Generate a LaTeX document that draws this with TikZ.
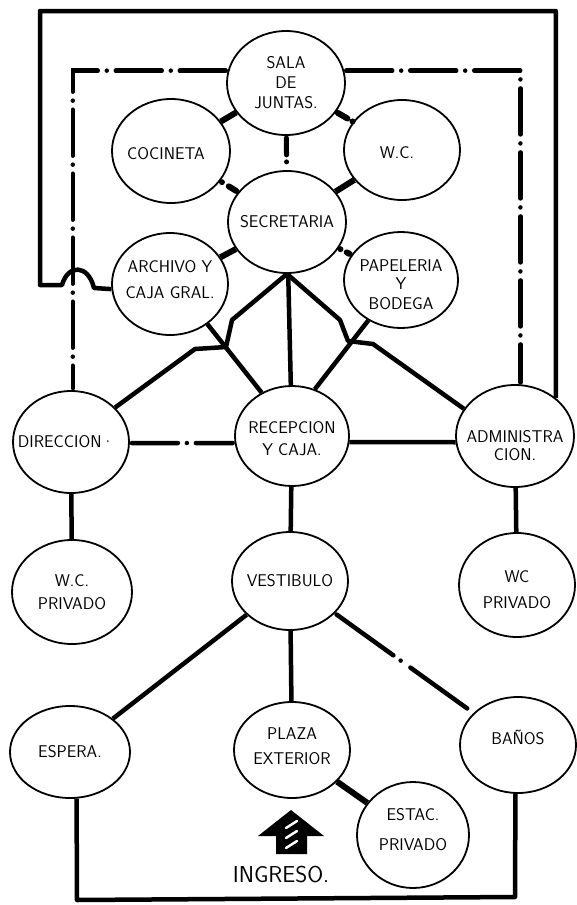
\documentclass[tikz,border=0pt]{standalone}
\usepackage{tikz}
\usetikzlibrary{shapes.geometric}
\tikzset{
  room/.style={draw, ellipse, line width=1.8pt, inner sep=0pt,
    minimum width=116pt, minimum height=100pt},
  lbl/.style={font=\sffamily\fontsize{17}{20}\selectfont, align=center, inner sep=0pt},
  link/.style={draw, line width=4.5pt, line join=round},
  stub/.style={draw, line width=6pt},
  dashdot/.style={draw, line width=4.5pt, line cap=round,
    dash pattern=on 46pt off 9pt on 0pt off 9pt,
    shorten <=2pt, shorten >=2pt},
  frame/.style={draw, line width=4.5pt, line join=round},
}

\begin{document}
\begin{tikzpicture}[x=1pt, y=-1pt]
  \useasboundingbox (0,0) rectangle (577,905);

  \node[room, minimum width=118pt, minimum height=104pt,
    label={[lbl]center:SALA\\DE\\JUNTAS.}] (sala) at (286,83) {};
  \node[room, minimum width=118pt, minimum height=104pt,
    label={[lbl, xshift=-5pt, yshift=-3pt]center:COCINETA}] (cocineta) at (171,151) {};
  \node[room, label={[lbl, xshift=-5pt, yshift=-3pt]center:W.C.}] (wc) at (402,150) {};
  \node[room, minimum width=118pt, minimum height=102pt,
    label={[lbl]center:SECRETARIA}] (secretaria) at (287,222) {};
  \node[room, minimum height=102pt,
    label={[lbl, yshift=4pt]center:ARCHIVO Y\\[6pt]CAJA GRAL.}] (archivo) at (170,284) {};
  \node[room, minimum width=114pt, minimum height=96pt,
    label={[lbl, yshift=-5pt]center:PAPELERIA\\[-2pt]Y\\BODEGA}] (papeleria) at (401,280) {};

  \node[room, minimum height=102pt,
    label={[lbl, xshift=-5pt]center:DIRECCION·}] (direccion) at (71,442) {};
  \node[room, minimum width=114pt,
    label={[lbl, yshift=-3pt]center:RECEPCION\\[2pt]Y CAJA.}] (recepcion) at (292,436) {};
  \node[room, minimum width=118pt, minimum height=102pt,
    label={[lbl, yshift=-10pt]center:ADMINISTRA\\[-2pt]CION.}] (admin) at (515,436) {};

  \node[room, minimum width=120pt, minimum height=104pt,
    label={[lbl]center:W.C.\\[3pt]PRIVADO}] (wcl) at (72,592) {};
  \node[room, minimum height=98pt,
    label={[lbl]center:VESTIBULO}] (vestibulo) at (290,581) {};
  \node[room, minimum height=104pt,
    label={[lbl, yshift=-5pt]center:WC\\[6pt]PRIVADO}] (wcr) at (517,585) {};

  \node[room, minimum width=120pt, minimum height=92pt,
    label={[lbl]center:ESPERA.}] (espera) at (70,752) {};
  \node[room, minimum height=96pt,
    label={[lbl, yshift=4pt]center:PLAZA\\[5pt]EXTERIOR}] (plaza) at (292,750) {};
  \node[room, minimum height=96pt,
    label={[lbl, yshift=8pt]center:BAÑOS}] (banos) at (518,745) {};
  \node[room, minimum width=112pt, minimum height=106pt,
    label={[lbl, yshift=5pt]center:ESTAC.\\[10pt]PRIVADO}] (estac) at (413,835) {};

  \node[lbl, font=\sffamily\fontsize{23}{26}\selectfont] (ingreso) at (281,875) {INGRESO.};

  \draw[stub] (sala) -- (cocineta);
  \draw[stub, line cap=round, dash pattern=on 11pt off 6pt on 0pt off 20pt,
    shorten <=2pt] (sala) -- (wc);
  \draw[stub, line width=5pt, line cap=round,
    dash pattern=on 17pt off 7pt on 0pt off 7pt on 20pt off 20pt,
    shorten <=2pt, shorten >=2pt] (sala) -- (secretaria);
  \draw[stub, line cap=round, dash pattern=on 0pt off 8pt on 30pt off 10pt,
    shorten <=2pt, shorten >=2pt] (cocineta) -- (secretaria);
  \draw[stub] (wc) -- (secretaria);
  \draw[stub] (secretaria) -- (archivo);
  \draw[stub, line cap=round, dash pattern=on 0pt off 7pt on 30pt off 10pt,
    shorten <=2pt, shorten >=2pt] (secretaria) -- (papeleria);

  \coordinate (fanL1) at (232,320);
  \coordinate (fanL2) at (226,347);
  \coordinate (fanL3) at (195,349);
  \coordinate (fanR1) at (340,320);
  \coordinate (fanR2) at (348,341);
  \coordinate (fanR3) at (373,344);
  \draw[link] (secretaria.south) -- (fanL1) -- (fanL2) -- (fanL3) -- (direccion.38);
  \draw[link] (secretaria.south) -- (fanR1) -- (fanR2) -- (fanR3) -- (admin.152);
  \draw[link] (secretaria) -- (recepcion);
  \draw[link] (archivo.-47) -- (recepcion.125);
  \draw[link] (papeleria.231) -- (recepcion.64);

  \draw[dashdot] (direccion.-1) -- (recepcion.187);
  \draw[link] (recepcion.-6) -- (admin.186);
  \draw[link] (direccion) -- (wcl);
  \draw[link] (recepcion) -- (vestibulo);
  \draw[link] (admin) -- (wcr);

  \draw[link] (vestibulo) -- (espera);
  \draw[link] (vestibulo) -- (plaza);
  \draw[dashdot, dash pattern=on 70pt off 9pt on 0pt off 12pt] (vestibulo) -- (banos);
  \draw[stub] (plaza) -- (estac);

  \coordinate (hopE) at (94,288);
  \coordinate (hopW) at (62,285);
  \coordinate (outerSW) at (40,285);
  \coordinate (outerNW) at (40,11);
  \draw[frame] (archivo.185) -- (hopE) .. controls (88,264) and (68,264) .. (hopW)
    -- (outerSW) -- (outerNW) -- (admin.43 |- outerNW) -- (admin.43);
  \draw[dashdot] (sala.168) -| (direccion.88);
  \draw[dashdot] (sala.12) -| (admin.84);

  \coordinate (loopSW) at (77,900);
  \coordinate (loopSE) at (515,897);
  \draw[frame] (espera.-82) -- (loopSW) -- (loopSE) -- (banos.-93);

  \fill (291,810) -- (324,836) -- (307,836) -- (307,854) -- (276,854)
    -- (276,836) -- (258,836) -- cycle;
  \foreach \y in {825,835,845}
    \draw[white, line width=2.5pt, line cap=round] (286,\y+3) -- (297,\y-4);
\end{tikzpicture}
\end{document}
